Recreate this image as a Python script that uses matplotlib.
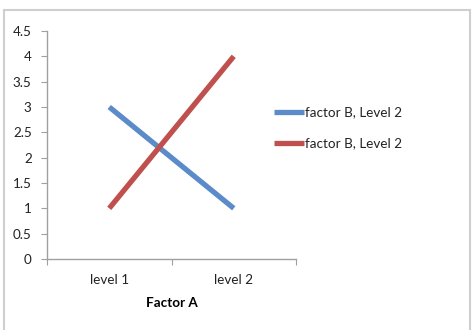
import matplotlib.pyplot as plt
from matplotlib.patches import Rectangle

categories = ["level 1", "level 2"]
series_names = ["factor B, Level 2", "factor B, Level 2"]
blue_values = [3, 1]
red_values = [1, 4]
y_ticks = [0, 0.5, 1, 1.5, 2, 2.5, 3, 3.5, 4, 4.5]

plt.rcParams['font.family'] = ['Lato', 'DejaVu Sans']
plt.rcParams['text.color'] = '#222222'
fs = 9.7

fig = plt.figure(figsize=(4.74, 3.30), dpi=100)
fig.patches.append(Rectangle((4 / 474, -0.01), 466 / 474, 1 - 10 / 330 + 0.01,
                             transform=fig.transFigure, fill=False,
                             edgecolor='#cfcfcf', linewidth=1.5))

ax = fig.add_axes([47 / 474, 71 / 330, 249 / 474, 228 / 330])
x = [0.5, 1.5]
ax.plot(x, blue_values, color='#5B8BC9', linewidth=3.8, solid_capstyle='butt',
        label=series_names[0])
ax.plot(x, red_values, color='#C0504D', linewidth=3.8, solid_capstyle='butt',
        label=series_names[1])

ax.set_xlim(0, 2)
ax.set_ylim(0, 4.5)
ax.set_yticks(y_ticks)
ax.set_yticklabels([f"{v:g}" for v in y_ticks], fontsize=fs, color='#222222')
ax.set_xticks([0, 1, 2])
ax.set_xticklabels([])
ax.set_xticks(x, minor=True)
ax.set_xticklabels(categories, minor=True, fontsize=fs, color='#222222')
ax.tick_params(axis='x', which='minor', length=0, pad=11)
ax.tick_params(axis='x', which='major', length=4, color='#a0a0a0')
ax.tick_params(axis='y', length=4, color='#a0a0a0', pad=7)
ax.set_xlabel("Factor A", fontsize=fs, fontweight='bold', labelpad=8)

for side in ['top', 'right']:
    ax.spines[side].set_visible(False)
for side in ['left', 'bottom']:
    ax.spines[side].set_color('#a0a0a0')
    ax.spines[side].set_linewidth(1.0)

fig.legend(loc='center left', bbox_to_anchor=(274 / 474, 1 - 128 / 330),
           frameon=False, fontsize=fs, handlelength=2.2, handletextpad=0.1,
           labelspacing=1.4, borderpad=0, borderaxespad=0)

fig.savefig("out.png", dpi=100)
